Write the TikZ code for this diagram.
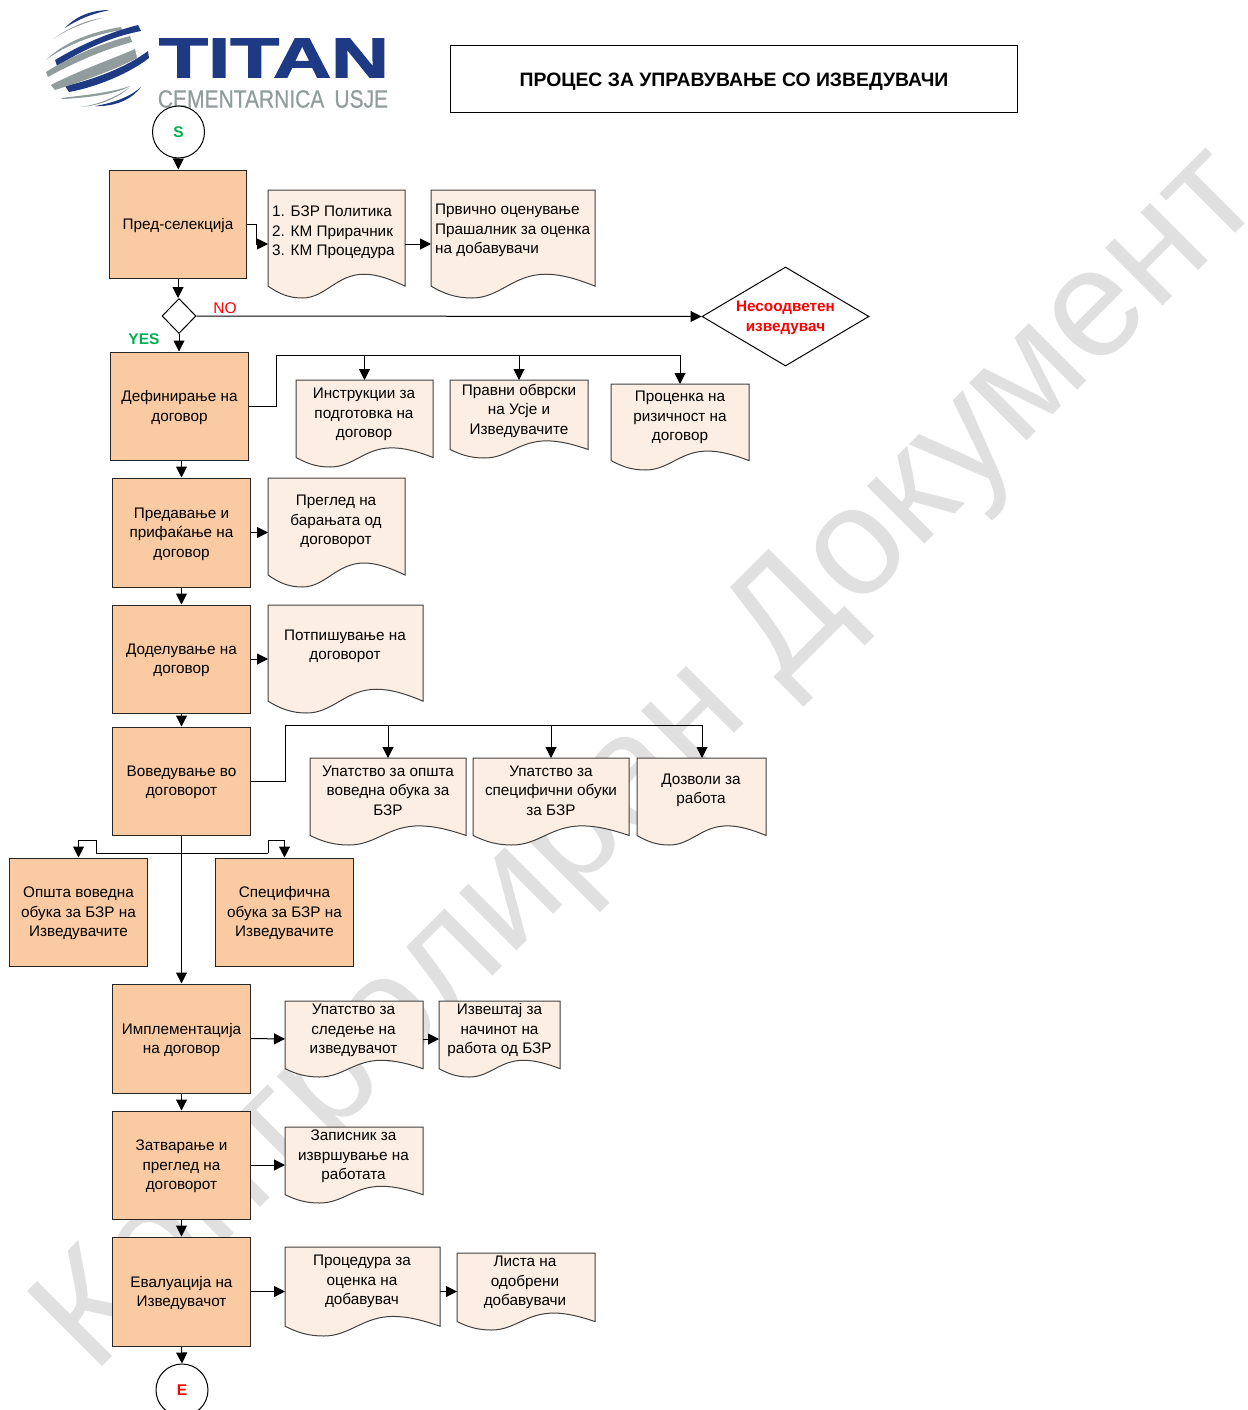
\documentclass[tikz,border=0pt]{standalone}
\usepackage{fontspec}
\setmainfont{Liberation Sans}
\newfontfamily\titanfont[FakeBold=2]{Liberation Sans Bold}
\newfontfamily\cemfont[FakeBold=0.6]{Liberation Sans}
\usetikzlibrary{arrows.meta,shapes.geometric,calc}
\definecolor{boxfill}{HTML}{FACBA3}
\definecolor{docfill}{HTML}{FDEEE3}
\definecolor{titanblue}{HTML}{1F3A84}
\definecolor{titangray}{HTML}{919C9C}
\definecolor{wmark}{HTML}{E0E0E0}
\tikzset{
 base/.style={font=\fontsize{15.3}{19.5}\selectfont,align=center,inner sep=0pt},
 procbox/.style={draw=black!85,fill=boxfill,line width=1pt,inner sep=0pt},
 proctext/.style={base,yshift=-1.5pt},
 arr/.style={-{Triangle[length=11pt,width=11pt]},line width=1pt,black},
 conn/.style={line width=1pt,black},
 doctext/.style={base,text=black,yshift=-1.5pt},
 docanchor/.style={inner sep=0pt,outer sep=0pt},
 bandblue/.style={fill=titanblue,draw=none},
 bandgray/.style={fill=titangray,draw=none},
}
\newcommand\procnode[6]{%
 \node[procbox,minimum width={(#4-#2)*1pt},minimum height={(#5-#3)*1pt}] (#1) at ({(#2+#4)/2-.5},{(#3+#5)/2}) {};
 \node[proctext] (#1-t) at (#1) {#6};}
\newcommand\docnode[5]{%
 \pgfmathsetmacro\dw{#4-#2}\pgfmathsetmacro\dh{#5-#3}%
 \node[docanchor,minimum width={(#4-#2)*1pt},minimum height={(#5-#3)*1pt}] (#1) at ({(#2+#4)/2},{(#3+#5)/2}) {};
 \begin{scope}[shift={(#2,#3)},x=\dw pt,y=-\dh pt]
 \draw[fill=docfill,draw=black!75,line width=1pt] (0,0) -- (1,0) -- (1,.89)
   .. controls (.9,.83) and (.8,.78) .. (.7,.78)
   .. controls (.5,.78) and (.42,1) .. (.25,1)
   .. controls (.15,1) and (.08,.96) .. (0,.89) -- cycle;
 \end{scope}}
\begin{document}
\begin{tikzpicture}[x=1pt,y=-1pt]
\useasboundingbox (0,0) rectangle (1247,1410);
\clip (0,0) rectangle (1247,1410);
% watermark
\node[font=\fontsize{154}{154}\selectfont,text=wmark,rotate=45,inner sep=0pt] (wm) at (653,763) {Контролиран Документ};
% logo
\fill[bandblue] (65,28) .. controls (77,15) and (93,10) .. (110,10) .. controls (95,13) and (80,18) .. (65,28) -- cycle;
\fill[bandgray] (53,39) .. controls (70,27) and (87,20) .. (102,18) .. controls (87,22) and (70,28) .. (53,39) -- cycle;
\fill[bandgray] (46,60) .. controls (63,43) and (90,32) .. (121,27) -- (122,30) .. controls (90,35) and (63,47) .. (46,60) -- cycle;
\fill[bandblue] (55,60) .. controls (80,45) and (110,32) .. (138,25) -- (141,31) .. controls (110,37) and (83,50) .. (57,66) -- cycle;
\fill[bandgray] (46,72) .. controls (73,55) and (103,43) .. (130,36) -- (132,42) .. controls (103,50) and (73,63) .. (48,77) -- cycle;
\fill[bandblue] (65,86) .. controls (93,80) and (127,67) .. (148,51) -- (149,58) .. controls (130,73) and (97,87) .. (69,92) -- cycle;
\fill[bandgray] (51,85) .. controls (80,70) and (110,60) .. (135,49) -- (137,58) .. controls (110,72) and (80,82) .. (55,90) -- cycle;
\fill[bandgray] (61,98) .. controls (87,95) and (113,92) .. (130,86) .. controls (120,93) and (90,98) .. (62,99) -- cycle;
\fill[bandgray] (80,107) .. controls (97,105) and (117,97) .. (130,87) .. controls (120,97) and (100,106) .. (80,107) -- cycle;
\fill[bandblue] (95,106) .. controls (113,103) and (130,97) .. (141,87) .. controls (133,98) and (117,107) .. (95,106) -- cycle;
\node[inner sep=0pt,text=titanblue,font=\fontsize{56}{56}\titanfont,anchor=center] (titan) at (274,58) {\scalebox{1.43}[1]{TITAN}};
\node[inner sep=0pt,text=titangray,font=\fontsize{25}{25}\cemfont,anchor=center] (cem) at (273,99) {\scalebox{.84}[1]{CEMENTARNICA\hspace{12pt}USJE}};
% title
\node[draw=black,line width=1pt,fill=white,minimum width=567pt,minimum height=67pt,inner sep=0pt] (title) at (734,79.5) {};
\node[inner sep=0pt,font=\fontsize{19.4}{22}\bfseries\selectfont,yshift=-2pt] (title-t) at (title) {ПРОЦЕС ЗА УПРАВУВАЊЕ СО ИЗВЕДУВАЧИ};
% terminals
\node[circle,draw=black,fill=white,line width=1pt,minimum size=52pt,inner sep=0pt,text={rgb,255:red,0;green,176;blue,80},font=\fontsize{15.5}{18}\bfseries\selectfont] (S) at (178.5,132) {S};
\node[circle,draw=black,fill=white,line width=1pt,minimum size=52pt,inner sep=0pt,text=red,font=\fontsize{15.5}{18}\bfseries\selectfont] (E) at (182,1390) {E};
% process
\procnode{pre}{110}{170}{247}{278}{Пред-селекција}
\procnode{def}{111}{352}{249}{460}{Дефинирање на\\договор}
\procnode{pred}{113}{478}{251}{587}{Предавање и\\прифаќање на\\договор}
\procnode{dod}{113}{605}{251}{713}{Доделување на\\договор}
\procnode{vov}{113}{727}{251}{835}{Воведување во\\договорот}
\procnode{ops}{10}{858}{148}{966}{Општа воведна\\обука за БЗР на\\Изведувачите}
\procnode{spec}{216}{858}{354}{966}{Специфична\\обука за БЗР на\\Изведувачите}
\procnode{impl}{113}{984}{251}{1093}{Имплементација\\на договор}
\procnode{zat}{113}{1111}{251}{1219}{Затварање и\\преглед на\\договорот}
\procnode{eval}{113}{1237}{251}{1346}{Евалуација на\\Изведувачот}
% decisions
\node[diamond,aspect=1,draw=black,fill=white,line width=1pt,minimum width=34pt,minimum height=35pt,inner sep=0pt] (dia) at (179,316) {};
\node[diamond,aspect=1.687,draw=black,fill=white,line width=1pt,minimum width=167pt,minimum height=99pt,inner sep=0pt] (nes) at (785.5,316.5) {};
\node[inner sep=0pt,text=red,font=\fontsize{15.3}{19.5}\bfseries\selectfont,align=center,yshift=-1.5pt] (nes-t) at (nes) {Несоодветен\\изведувач};
% documents
\docnode{d1}{268}{190}{405}{298}
\docnode{d2}{431}{190}{595}{298}
\docnode{d3}{296}{380}{433}{467}
\docnode{d4}{450}{380}{588}{458}
\docnode{d5}{611}{384}{749}{470}
\docnode{d6}{268}{478}{405}{587}
\docnode{d7}{268}{605}{423}{713}
\docnode{d8}{310}{758}{466}{845}
\docnode{d9}{473}{758}{629}{845}
\docnode{d10}{637}{758}{766}{845}
\docnode{d11}{285}{1001}{423}{1077}
\docnode{d12}{439}{1001}{560}{1077}
\docnode{d13}{285}{1127}{423}{1203}
\docnode{d14}{285}{1247}{440}{1336}
\docnode{d15}{457}{1253}{595}{1330}
% document texts
\node[doctext,align=left,anchor=west] (t1) at (272,231) {1. БЗР Политика\\2. КМ Прирачник\\3. КМ Процедура};
\node[doctext,align=left,anchor=west] (t2) at (435,229) {Првично оценување\\Прашалник за оценка\\на добавувачи};
\node[doctext] (t3) at (364,413) {Инструкции за\\подготовка на\\договор};
\node[doctext] (t4) at (519,409) {Правни обврски\\на Усје и\\Изведувачите};
\node[doctext] (t5) at (680,416) {Проценка на\\ризичност на\\договор};
\node[doctext] (t6) at (336,520) {Преглед на\\барањата од\\договорот};
\node[doctext] (t7) at (345,645) {Потпишување на\\договорот};
\node[doctext] (t8) at (388,789) {Упатство за општа\\воведна обука за\\БЗР};
\node[doctext] (t9) at (551,789) {Упатство за\\специфични обуки\\за БЗР};
\node[doctext] (t10) at (701,789) {Дозволи за\\работа};
\node[doctext] (t11) at (353.5,1029) {Упатство за\\следење на\\изведувачот};
\node[doctext] (t12) at (499.5,1029) {Извештај за\\начинот на\\работа од БЗР};
\node[doctext] (t13) at (353.5,1155) {Записник за\\извршување на\\работата};
\node[doctext] (t14) at (362,1280) {Процедура за\\оценка на\\добавувач};
\node[doctext] (t15) at (525,1281) {Листа на\\одобрени\\добавувачи};
% labels
\node[base,text=red,font=\fontsize{15.5}{18}\selectfont] (no) at (225,308) {NO};
\node[base,text={rgb,255:red,0;green,176;blue,80},font=\fontsize{15.5}{18}\bfseries\selectfont] (yes) at (144,339) {YES};
% connectors
\draw[arr] (S) -- (pre);
\draw[arr] (pre) -- (pre |- dia.north);
\draw[arr] (pre.east) -- ++(9,0) |- (d1.west);
\draw[arr] (d1.east) -- (d2.west |- d1.east);
\draw[arr] (dia.east) -- (nes.west);
\draw[arr] (dia.south) -- (dia.south |- def.north);
\coordinate (bus1) at (276,355);
\draw[conn] (def.east) -| (bus1) -- (bus1 -| d5.north);
\draw[arr] (bus1 -| d3.north) -- (d3.north);
\draw[arr] (bus1 -| d4.north) -- (d4.north);
\draw[arr] (bus1 -| d5.north) -- (d5.north);
\draw[arr] (def.south -| pred.north) -- (pred.north);
\draw[arr] (pred.east) -- (d6.west);
\draw[arr] (pred.south) -- (dod.north);
\draw[arr] (dod.east) -- (d7.west);
\draw[arr] (dod.south) -- (vov.north);
\coordinate (bus2) at (285,725);
\coordinate (bus2end) at (702,725);
\draw[conn] (vov.east) -| (bus2) -- (bus2end);
\draw[arr] (bus2 -| d8.north) -- (d8.north);
\draw[arr] (bus2 -| d9.north) -- (d9.north);
\draw[arr] (bus2end) -- (bus2end |- d10.north);
\draw[arr] (vov.south) -- (impl.north);
\coordinate (hl) at (96,853);
\coordinate (hr) at (268,853);
\draw[conn] (hl) -- (hr);
\draw[arr] (hl) -- ++(0,-13) -| (ops.north);
\draw[arr] (hr) -- ++(0,-13) -| (spec.north);
\draw[arr] (impl.east) -- (d11.west);
\draw[arr] (d11.east) -- (d12.west);
\draw[arr] (impl.south) -- (zat.north);
\draw[arr] (zat.east) -- (d13.west);
\draw[arr] (zat.south) -- (eval.north);
\draw[arr] (eval.east) -- (d14.west);
\draw[arr] (d14.east) -- (d15.west);
\draw[arr] (eval.south) -- (E.north);
\end{tikzpicture}
\end{document}
